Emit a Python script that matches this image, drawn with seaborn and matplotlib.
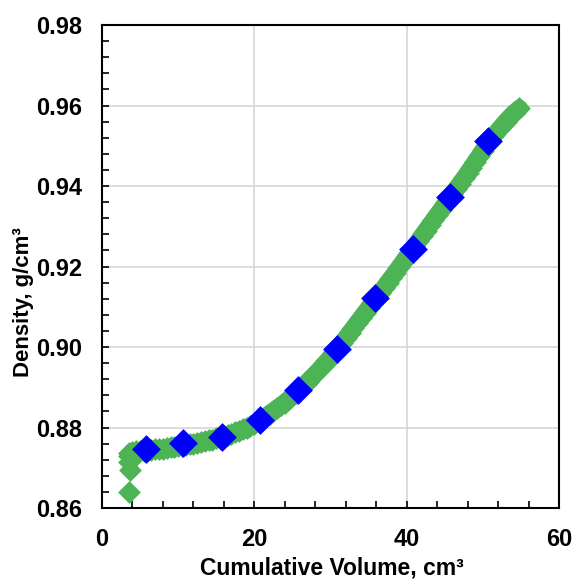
import numpy as np
import pandas as pd
import matplotlib
matplotlib.use("Agg")
import matplotlib.pyplot as plt
import seaborn as sns
from matplotlib.ticker import MultipleLocator, FormatStrFormatter

# measured (dense) curve, cumulative volume cm3 vs density g/cm3
curve_volume = [
    3.6, 3.7, 3.6, 3.5, 3.6,
    4.0, 4.5, 5.0, 5.5, 6.0, 6.5, 7.0, 7.5, 8.0, 8.5,
    9.0, 9.5, 10.0, 10.5, 11.0, 11.5, 12.0, 12.5, 13.0, 13.5,
    14.0, 14.5, 15.0, 15.5, 16.0, 16.5, 17.0, 17.5, 18.0, 18.5,
    19.0, 19.5, 20.0, 20.5, 21.0, 21.5, 22.0, 22.5, 23.0, 23.5,
    24.0, 24.5, 25.0, 25.5, 26.0, 26.5, 27.0, 27.5, 28.0, 28.5,
    29.0, 29.5, 30.0, 30.5, 31.0, 31.5, 32.0, 32.5, 33.0, 33.5,
    34.0, 34.5, 35.0, 35.5, 36.0, 36.5, 37.0, 37.5, 38.0, 38.5,
    39.0, 39.5, 40.0, 40.5, 41.0, 41.5, 42.0, 42.5, 43.0, 43.5,
    44.0, 44.5, 45.0, 45.5, 46.0, 46.5, 47.0, 47.5, 48.0, 48.5,
    49.0, 49.5, 50.0, 50.5, 51.0, 51.5, 52.0, 52.5, 53.0, 53.5,
    54.0, 54.5, 54.8,
]
curve_density = [
    0.8640, 0.8694, 0.8714, 0.8730, 0.8738,
    0.8740, 0.8741, 0.8742, 0.8743, 0.8744, 0.8745, 0.8746, 0.8747, 0.8748, 0.8749,
    0.8751, 0.8752, 0.8754, 0.8755, 0.8757, 0.8758, 0.8760, 0.8762, 0.8764, 0.8766,
    0.8768, 0.8770, 0.8773, 0.8775, 0.8778, 0.8781, 0.8784, 0.8788, 0.8792, 0.8796,
    0.8800, 0.8805, 0.8810, 0.8816, 0.8822, 0.8828, 0.8834, 0.8841, 0.8848, 0.8855,
    0.8862, 0.8870, 0.8879, 0.8887, 0.8896, 0.8905, 0.8914, 0.8924, 0.8933, 0.8943,
    0.8954, 0.8964, 0.8975, 0.8987, 0.8998, 0.9010, 0.9022, 0.9035, 0.9047, 0.9060,
    0.9072, 0.9085, 0.9097, 0.9110, 0.9122, 0.9135, 0.9147, 0.9160, 0.9172, 0.9185,
    0.9198, 0.9211, 0.9224, 0.9237, 0.9250, 0.9263, 0.9276, 0.9289, 0.9302, 0.9315,
    0.9328, 0.9341, 0.9354, 0.9367, 0.9380, 0.9393, 0.9406, 0.9419, 0.9432, 0.9446,
    0.9460, 0.9474, 0.9488, 0.9501, 0.9514, 0.9526, 0.9538, 0.9549, 0.9560, 0.9570,
    0.9580, 0.9588, 0.9593,
]

# sampled points (blue diamonds)
sample_volume = [5.8, 10.6, 15.7, 20.7, 25.7, 30.9, 35.9, 40.8, 45.7, 50.7]
sample_density = [0.8747, 0.8761, 0.8776, 0.8819, 0.8893, 0.8996, 0.9122, 0.9243, 0.9373, 0.9512]

curve_df = pd.DataFrame({"volume": curve_volume, "density": curve_density})
sample_df = pd.DataFrame({"volume": sample_volume, "density": sample_density})

green = "#4CB454"

sns.set_style("white")
plt.rcParams['font.family'] = ['Liberation Sans', 'DejaVu Sans']
plt.rcParams['font.weight'] = 'bold'
plt.rcParams['text.color'] = 'black'
plt.rcParams['axes.labelcolor'] = 'black'
plt.rcParams['xtick.color'] = 'black'
plt.rcParams['ytick.color'] = 'black'

fig = plt.figure(figsize=(5.76, 5.82), dpi=100)
ax = fig.add_axes([0.177, 0.127, 0.7935, 0.830])

# the markers sit so close they merge into a band; a thick line under them fills the gaps
smooth = curve_df.iloc[5:]
ax.plot(smooth["volume"], smooth["density"], color=green, linewidth=12.5,
        solid_capstyle="round", solid_joinstyle="round", zorder=2)
sns.scatterplot(data=curve_df, x="volume", y="density", ax=ax, marker="D",
                s=135, color=green, linewidth=0, zorder=3)
sns.scatterplot(data=sample_df, x="volume", y="density", ax=ax, marker="D",
                s=215, color="#0000FF", linewidth=0, zorder=4)

ax.set_xlim(0, 60)
ax.set_ylim(0.86, 0.98)
ax.xaxis.set_major_locator(MultipleLocator(20))
ax.xaxis.set_minor_locator(MultipleLocator(4))
ax.yaxis.set_major_locator(MultipleLocator(0.02))
ax.yaxis.set_minor_locator(MultipleLocator(0.004))
ax.yaxis.set_major_formatter(FormatStrFormatter('%.2f'))

ax.set_axisbelow(True)
ax.grid(True, which='major', color='#d9d9d9', linewidth=1.3)

for sp in ax.spines.values():
    sp.set_color('black')
    sp.set_linewidth(1.5)

ax.tick_params(which='both', direction='in', length=5, width=1.2, color='black',
               top=False, right=False, bottom=True, left=True)
ax.tick_params(which='major', labelsize=17, pad=14, labelcolor='black')
for lab in ax.get_xticklabels() + ax.get_yticklabels():
    lab.set_fontweight('bold')

ax.set_xlabel("Cumulative Volume, cm³", fontsize=16.5, fontweight='bold')
ax.set_ylabel("Density, g/cm³", fontsize=16, fontweight='bold')
ax.xaxis.set_label_coords(0.503, -0.100)
ax.yaxis.set_label_coords(-0.149, 0.4265)

fig.savefig("out.png", dpi=100)
